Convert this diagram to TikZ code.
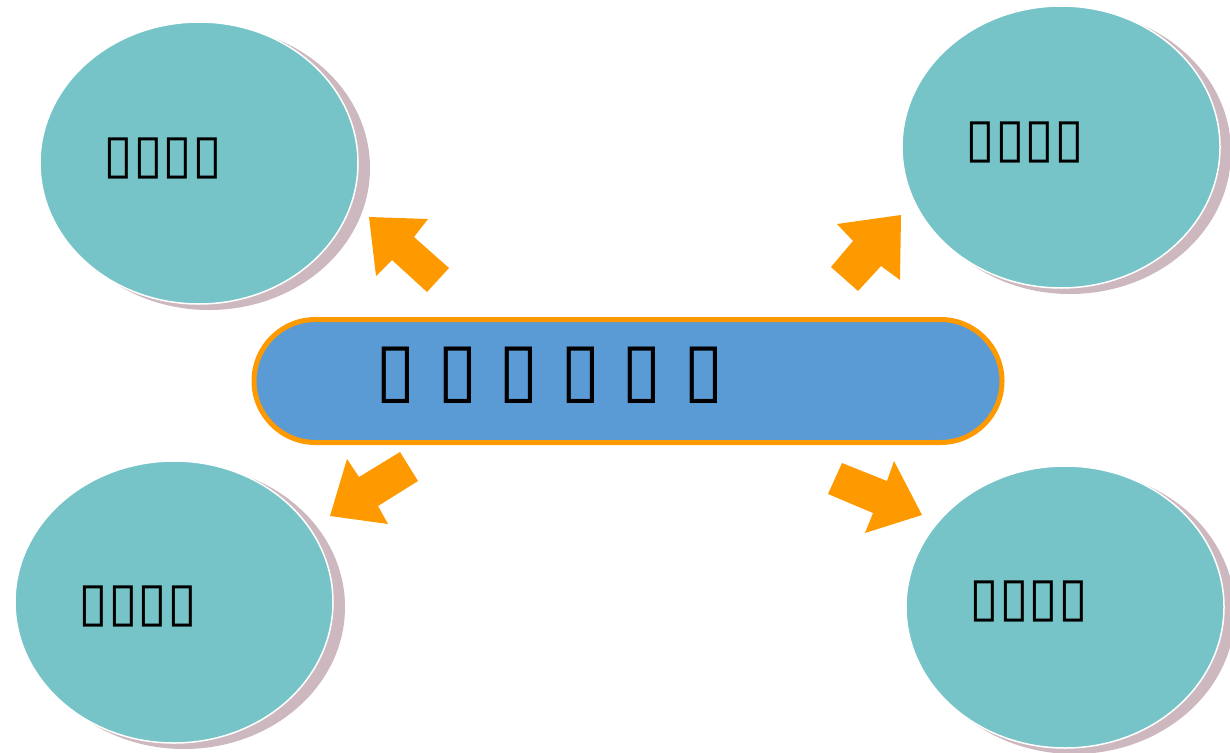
\documentclass[tikz,border=0pt]{standalone}
\usepackage{fontspec}
\newfontfamily\boxfont{DejaVu Sans}
\usetikzlibrary{shapes.geometric,shapes.misc}
\definecolor{teal1}{HTML}{77C4C8}
\definecolor{shadowc}{HTML}{CDB8C0}
\definecolor{orng}{HTML}{FF9900}
\definecolor{pillblue}{HTML}{5B9BD5}
\tikzset{
  bubble/.style={ellipse, fill=teal1, draw=white, line width=1.5pt, minimum width=318pt, minimum height=282pt, inner sep=0pt},
  bubshadow/.style={ellipse, fill=shadowc, minimum width=322pt, minimum height=284pt, inner sep=0pt},
  bublabel/.style={font=\boxfont\fontsize{54}{54}\selectfont, inner sep=0pt, text=black},
  pill/.style={rounded rectangle, fill=pillblue, draw=orng, line width=5pt, minimum width=748pt, minimum height=123pt, inner sep=0pt},
  pilllabel/.style={font=\boxfont\fontsize{74}{74}\selectfont, inner sep=0pt, text=black},
  blockarrow/.style={fill=orng}
}
\begin{document}
\begin{tikzpicture}[x=1pt,y=-1pt]
\useasboundingbox (0,0) rectangle (1230,752);
% shadows
\node[bubshadow] (s1) at (209,168) {};
\node[bubshadow] (s2) at (1070,152) {};
\node[bubshadow] (s3) at (184,607) {};
\node[bubshadow] (s4) at (1074,612) {};
% bubbles
\node[bubble] (b1) at (199,163) {};
\node[bubble] (b2) at (1061,147) {};
\node[bubble] (b3) at (174,602) {};
\node[bubble] (b4) at (1065,607) {};
% labels
\node[bublabel] (l1) at (163,158) {▯▯▯▯};
\node[bublabel] (l2) at (1025,142) {▯▯▯▯};
\node[bublabel] (l3) at (138,606) {▯▯▯▯};
\node[bublabel] (l4) at (1029,601) {▯▯▯▯};
% central pill
\node[pill] (c) at (628,381) {};
\node[pilllabel] (cl) at (550,375) {▯\hspace{20.8pt}▯\hspace{20.8pt}▯\hspace{20.8pt}▯\hspace{20.8pt}▯\hspace{20.8pt}▯};
% arrows
\fill[blockarrow] (369,217) -- (428,219) -- (414,237) -- (449,268) -- (427,292) -- (392,260) -- (376,276) -- cycle;
\fill[blockarrow] (901,215) -- (900,280) -- (881,266) -- (858,291) -- (831,267) -- (853,241) -- (837,224) -- cycle;
\fill[blockarrow] (330,516) -- (347,459) -- (359,477) -- (400,452) -- (418,481) -- (378,506) -- (388,524) -- cycle;
\fill[blockarrow] (922,515) -- (865,533) -- (873,513) -- (828,494) -- (842,463) -- (887,481) -- (894,461) -- cycle;
\end{tikzpicture}
\end{document}
